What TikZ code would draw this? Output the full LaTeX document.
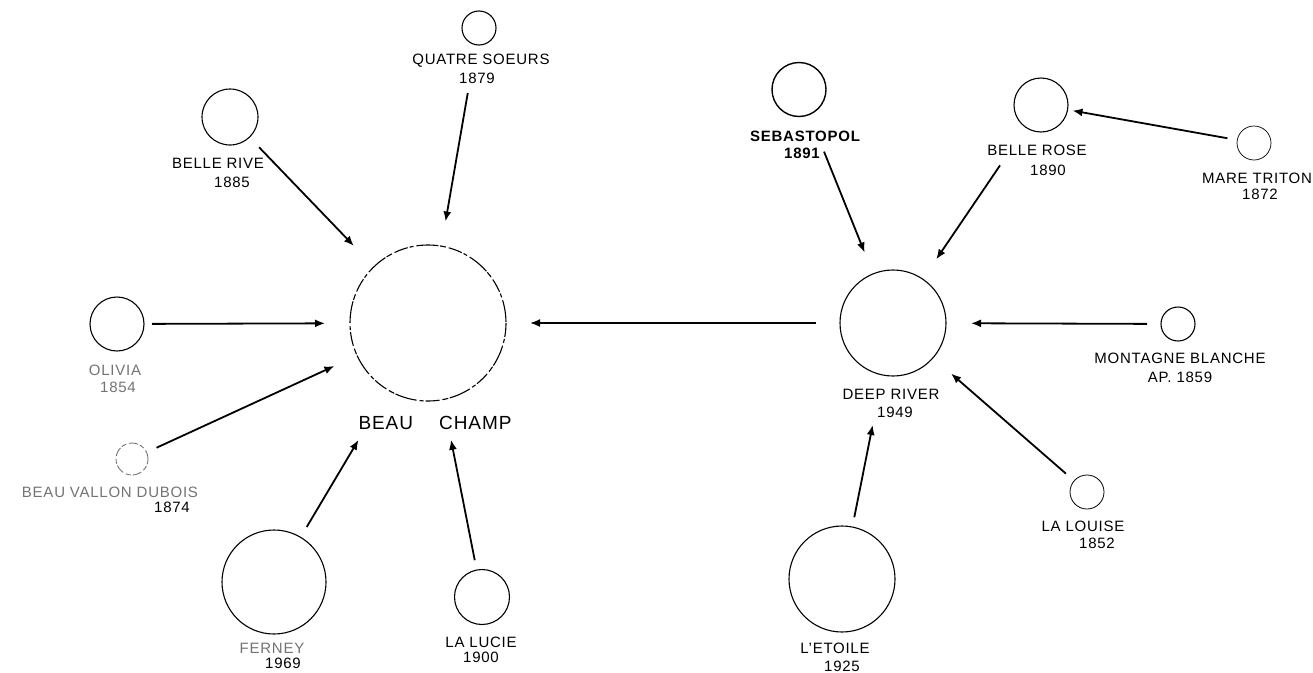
\documentclass[tikz,border=0pt]{standalone}
\usepackage{fontspec}
\setmainfont{Liberation Sans}[LetterSpace=5]
\usetikzlibrary{arrows.meta}
\begin{document}
\begin{tikzpicture}[x=1pt,y=-1pt,
  site/.style={circle,draw,line width=1.1pt,inner sep=0pt,outer sep=0pt,minimum size=#1pt},
  lbl/.style={font=\fontsize{15}{17}\selectfont,inner sep=0pt,anchor=center},
  faded/.style={text=black!55},
  arr/.style={line width=1.8pt,-{Latex[length=10pt,width=8pt]}},
  scratchy/.style={line width=1.1pt,dash pattern=on 14pt off 2pt on 4pt off 3pt on 22pt off 1.5pt on 6pt off 3pt},
]
\useasboundingbox (0,0) rectangle (1313,672);

% ---- circles ----
\node[site=34] (qs) at (479,28) {};
\node[site=56] (br) at (230,117) {};
\node[site=156,draw=none] (bc) at (428,323) {};
\draw[scratchy] (bc.center) circle (78);
\node[site=54] (ol) at (117,324) {};
\node[site=32,draw=black!60,line width=0.8pt,dash pattern=on 9pt off 3pt on 5pt off 2pt] (bv) at (132,459) {};
\node[site=104] (fe) at (274,582) {};
\node[site=55] (lu) at (482,597) {};
\node[site=106] (dr) at (893,323) {};
\node[site=54,line width=1.4pt] (se) at (799,89.5) {};
\node[site=54] (bo) at (1041,105) {};
\node[site=34,line width=0.7pt] (mt) at (1254,143) {};
\node[site=34] (mb) at (1178,324) {};
\node[site=34,line width=0.8pt] (ll) at (1087,492) {};
\node[site=106] (et) at (842,579) {};

% ---- labels ----
\node[lbl] (qsN) at (481,61) {QUATRE SOEURS};
\node[lbl] (qsY) at (477,78) {1879};
\node[lbl] (brN) at (218,163) {BELLE RIVE};
\node[lbl] (brY) at (232,182) {1885};
\node[lbl,font=\fontsize{19}{21}\selectfont] (bcN) at (435,423) {BEAU\hspace{26pt}CHAMP};
\node[lbl,faded] (olN) at (115,370) {OLIVIA};
\node[lbl,faded] (olY) at (118,387) {1854};
\node[lbl,faded] (bvN) at (110,492) {BEAU VALLON DUBOIS};
\node[lbl] (bvY) at (172,507) {1874};
\node[lbl,faded] (feN) at (272,648) {FERNEY};
\node[lbl] (feY) at (283,663) {1969};
\node[lbl] (luN) at (481,642) {LA LUCIE};
\node[lbl] (luY) at (481,657) {1900};
\node[lbl,font=\bfseries\fontsize{15}{17}\selectfont] (seN) at (805,136) {SEBASTOPOL};
\node[lbl,font=\bfseries\fontsize{15}{17}\selectfont] (seY) at (802,153) {1891};
\node[lbl] (boN) at (1037,150) {BELLE ROSE};
\node[lbl] (boY) at (1048,170) {1890};
\node[lbl] (mtN) at (1257,178) {MARE TRITON};
\node[lbl] (mtY) at (1260,194) {1872};
\node[lbl] (drN) at (891,394) {DEEP RIVER};
\node[lbl] (drY) at (895,412) {1949};
\node[lbl] (mbN) at (1180,358) {MONTAGNE BLANCHE};
\node[lbl] (mbY) at (1180,377) {AP. 1859};
\node[lbl] (llN) at (1083,526) {LA LOUISE};
\node[lbl] (llY) at (1097,543) {1852};
\node[lbl] (etN) at (835,648) {L'ETOILE};
\node[lbl] (etY) at (842,666) {1925};

% ---- connectors ----
\draw[arr,shorten <=49pt,shorten >=25pt] (qs) -- (bc);
\draw[arr,shorten <=14pt,shorten >=29pt] (br) -- (bc);
\draw[arr,shorten <=8pt,shorten >=25pt] (ol) -- (bc);
\draw[arr,shorten <=11pt,shorten >=25pt] (bv) -- (bc);
\draw[arr,shorten <=12pt,shorten >=58pt] (fe) -- (bc);
\draw[arr,shorten <=10pt,shorten >=41pt] (lu) -- (bc);
\draw[arr,shorten <=24pt,shorten >=24pt] (dr) -- (bc);
\draw[arr,shorten <=40pt,shorten >=23pt] (se) -- (dr);
\draw[arr,shorten <=46pt,shorten >=24pt] (bo) -- (dr);
\draw[arr,shorten <=10pt,shorten >=5pt] (mt) -- (bo);
\draw[arr,shorten <=14pt,shorten >=25pt] (mb) -- (dr);
\draw[arr,shorten <=11pt,shorten >=24pt] (ll) -- (dr);
\draw[arr,shorten <=10pt,shorten >=51pt] (et) -- (dr);
\end{tikzpicture}
\end{document}
